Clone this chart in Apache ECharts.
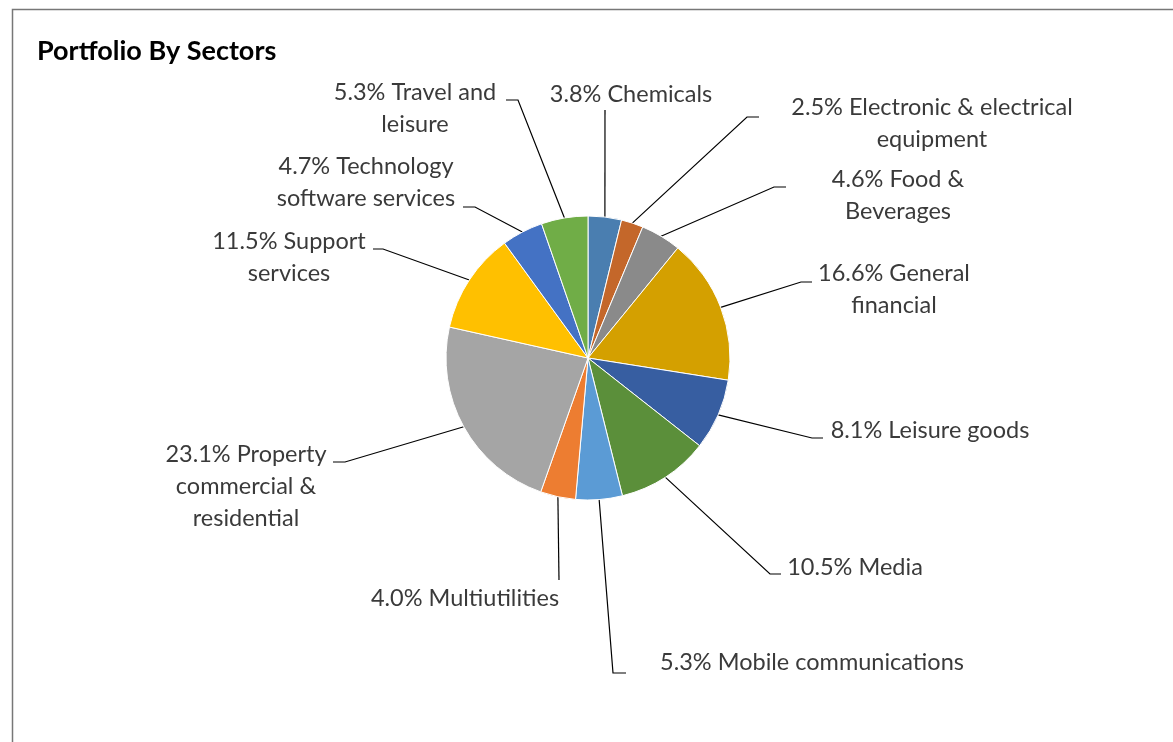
<!DOCTYPE html>
<html>
<head>
<meta charset="utf-8">
<style>
  html, body { margin: 0; padding: 0; background: #fff; }
  #chart { width: 1173px; height: 742px; }
</style>
<script src="https://cdn.jsdelivr.net/npm/echarts@6/dist/echarts.min.js"></script>
</head>
<body>
<div id="chart"></div>
<script>
// ---- data ----
var categories = [
  'Chemicals',
  'Electronic & electrical\nequipment',
  'Food &\nBeverages',
  'General\nfinancial',
  'Leisure goods',
  'Media',
  'Mobile communications',
  'Multiutilities',
  'Property\ncommercial &\nresidential',
  'Support\nservices',
  'Technology\nsoftware services',
  'Travel and\nleisure'
];
var values = [3.8, 2.5, 4.6, 16.6, 8.1, 10.5, 5.3, 4.0, 23.1, 11.5, 4.7, 5.3];
var colors = ['#4a7eb0', '#c4672a', '#8a8a8a', '#d4a000', '#375ea1', '#5b8f3a',
              '#5b9bd5', '#ed7d31', '#a5a5a5', '#ffc000', '#4472c4', '#70ad47'];

// ---- manual label placement (label centre, line bend, line end) ----
var labelPlacement = [
  { x: 631, y: 94,  bend: [605, 110], end: [605, 110] },
  { x: 932, y: 123, bend: [747, 117], end: [759, 117] },
  { x: 898, y: 195, bend: [774, 187], end: [786, 187] },
  { x: 894, y: 289, bend: [801, 282], end: [812, 282] },
  { x: 930, y: 430, bend: [812, 438], end: [823, 438] },
  { x: 855, y: 567, bend: [770, 574], end: [781, 574] },
  { x: 812, y: 662, bend: [613, 673], end: [626, 673] },
  { x: 465, y: 598, bend: [559, 580], end: [559, 580] },
  { x: 246, y: 486, bend: [345, 462], end: [333, 462] },
  { x: 289, y: 257, bend: [383, 249], end: [373, 249] },
  { x: 366, y: 182, bend: [475, 207], end: [463, 207] },
  { x: 415, y: 108, bend: [518, 100], end: [506, 100] }
];

var pieData = categories.map(function (name, i) {
  return { name: name, value: values[i], itemStyle: { color: colors[i] } };
});

var chart = echarts.init(document.getElementById('chart'), null, { renderer: 'canvas' });
chart.setOption({
  backgroundColor: '#fff',
  animation: false,
  graphic: [{
    type: 'rect',
    left: 10, top: 7,
    shape: { width: 1300, height: 900 },
    style: { fill: 'none', stroke: '#777', lineWidth: 1.5 },
    z: -1
  }],
  title: {
    text: 'Portfolio By Sectors',
    left: 37, top: 38, padding: 0,
    textStyle: { fontFamily: 'Lato', fontWeight: 'bold', fontSize: 27, color: '#000' }
  },
  series: [{
    type: 'pie',
    center: [588, 358],
    radius: 142,
    startAngle: 90,
    clockwise: true,
    avoidLabelOverlap: false,
    data: pieData,
    itemStyle: { borderColor: '#fff', borderWidth: 1 },
    label: {
      show: true,
      position: 'outside',
      formatter: function (p) { return p.value.toFixed(1) + '% ' + p.name; },
      fontFamily: 'Lato',
      fontWeight: 'normal',
      fontSize: 23.5,
      lineHeight: 32,
      color: '#3a3a3a',
      align: 'center'
    },
    labelLine: { show: true, length: 10, length2: 10, smooth: false,
      lineStyle: { color: '#000', width: 1.2 } },
    labelLayout: function (params) {
      var L = labelPlacement[params.dataIndex];
      var start = params.labelLinePoints ? params.labelLinePoints[0] : L.bend;
      return {
        x: L.x, y: L.y, align: 'center', verticalAlign: 'middle',
        labelLinePoints: [start, L.bend, L.end]
      };
    },
    emphasis: { disabled: true }
  }]
});
</script>
</body>
</html>
